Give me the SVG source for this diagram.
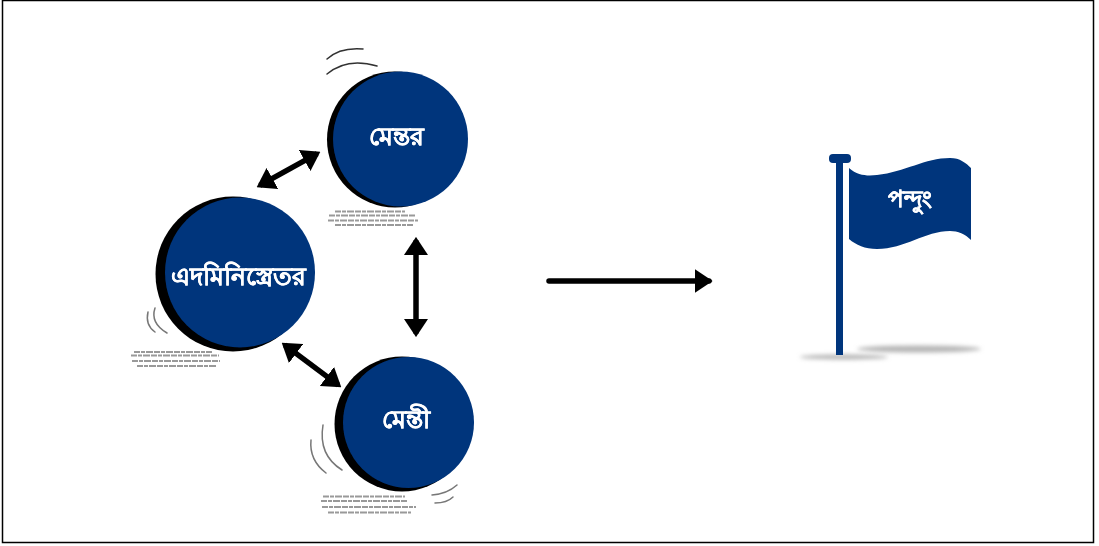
<svg xmlns="http://www.w3.org/2000/svg" width="1099" height="546" viewBox="0 0 1099 546">
<style>
.disc{fill:#04357b}.rim{fill:#000}
.lbl{fill:#fff;stroke:#fff;stroke-width:.3;font-family:"Noto Sans","Liberation Sans","DejaVu Sans",sans-serif;font-weight:700;text-anchor:middle}
.sw{fill:none;stroke:#333;stroke-width:1.5;stroke-linecap:round}
.sw2{fill:none;stroke:#777;stroke-width:1.5;stroke-linecap:round}
.sc{fill:none;stroke:#999;stroke-width:1.8;stroke-dasharray:6 1 4 1 7 1}
.ar{fill:none;stroke:#000;stroke-width:5.500}
</style>
<defs>
<filter id="soft" x="-10%" y="-10%" width="120%" height="120%"><feGaussianBlur stdDeviation="0.5"/></filter>
<filter id="shadow" x="-20%" y="-300%" width="140%" height="700%"><feGaussianBlur stdDeviation="2"/></filter>
<marker id="h" viewBox="0 0 10 10" refX="8" refY="5" markerUnits="userSpaceOnUse" markerWidth="18" markerHeight="24" orient="auto-start-reverse" preserveAspectRatio="none"><path d="M0 0L10 5L0 10Z" fill="#000"/></marker>
</defs>
<rect width="1099" height="546" fill="#fff"/>
<rect x="2.500" y="0.500" width="1091" height="542" fill="none" stroke="#000" stroke-width="1.500"/>
<g id="connectors" filter="url(#soft)">
<line class="ar" x1="259.800" y1="185.400" x2="317.200" y2="153.600" marker-start="url(#h)" marker-end="url(#h)"/>
<line class="ar" x1="416" y1="240.500" x2="416" y2="333.500" marker-start="url(#h)" marker-end="url(#h)"/>
<line class="ar" x1="284.600" y1="344.900" x2="338.400" y2="385.100" marker-start="url(#h)" marker-end="url(#h)"/>
<line class="ar" x1="549" y1="281" x2="709" y2="281" stroke-linecap="round" marker-end="url(#h)"/>
</g>
<g id="node-mentor" filter="url(#soft)">
<path class="sw" d="M327 59Q340 47 363 49M327 74Q347 57 377 66"/>
<circle class="rim" cx="395" cy="139.500" r="68"/>
<circle class="disc" cx="400.500" cy="139" r="67.500"/>
<path class="sc" d="M335 211.500H405M329 215.500H415M328 220.500H418M335 225H413"/>
<text class="lbl" x="396.500" y="145" font-size="25">মেন্তর</text>
</g>
<g id="node-administrator" filter="url(#soft)">
<path class="sw2" d="M155 308Q150 323 167 333M148 312Q145 325 155 332"/>
<circle class="rim" cx="233" cy="274" r="77.500"/>
<circle class="disc" cx="240" cy="272.500" r="75"/>
<path class="sc" d="M134 352H212M131 355.500H219M132 361H220M137 366H216"/>
<text class="lbl" x="238.500" y="285" font-size="24.500">এদমিনিস্ত্রেতর</text>
</g>
<g id="node-mentee" filter="url(#soft)">
<path class="sw2" d="M323 425Q318 455 342 470M311 440Q309 460 326 473M432 495Q447 494 457 485M435 503Q447 503 453 497"/>
<circle class="rim" cx="402" cy="424" r="67.500"/>
<circle class="disc" cx="408.500" cy="422.500" r="65.500"/>
<path class="sc" d="M323 496.500H405M321 501H408M322 507H416M328 512.500H411"/>
<text class="lbl" x="406" y="428" font-size="25">মেন্তী</text>
</g>
<g id="node-target">
<ellipse cx="919" cy="349" rx="62" ry="3.500" fill="#b5b5b5" filter="url(#shadow)"/>
<ellipse cx="844" cy="357" rx="44" ry="2.500" fill="#b5b5b5" filter="url(#shadow)"/>
<g filter="url(#soft)">
<rect x="836" y="158" width="7" height="197" fill="#04357b"/>
<rect x="829" y="154" width="22" height="9" rx="4" fill="#04357b"/>
<path class="disc" d="M849 168C858 176 868 176 877 175C905 172 925 158 950 158C960 158 966 163 971 168L971 240C965 234 958 231 950 231C925 231 905 249 877 249C865 249 856 245 849 239Z"/>
<text class="lbl" x="910" y="207" font-size="23">পন্দুং</text>
</g>
</g>
</svg>
